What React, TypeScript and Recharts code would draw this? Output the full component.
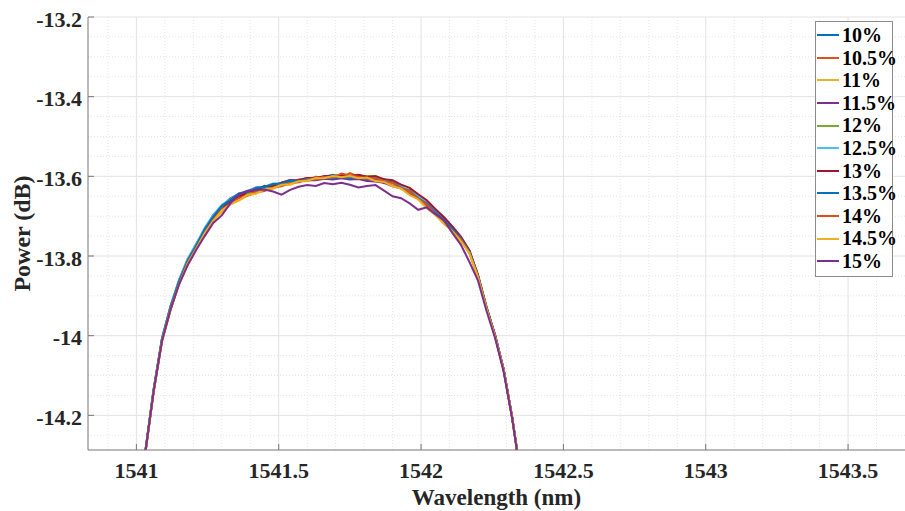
import React from 'react';
import { LineChart, Line, XAxis, YAxis, CartesianGrid, Legend } from 'recharts';

const wavelengths = [
  1541.0, 1541.03, 1541.06, 1541.09, 1541.12, 1541.15, 1541.18,
  1541.21, 1541.24, 1541.27, 1541.3, 1541.33, 1541.36, 1541.39, 1541.42, 1541.45, 1541.48,
  1541.51, 1541.54, 1541.57, 1541.6, 1541.63, 1541.66, 1541.69, 1541.72, 1541.75, 1541.78,
  1541.81, 1541.84, 1541.87, 1541.9, 1541.93, 1541.96, 1541.99, 1542.02, 1542.05, 1542.08,
  1542.11, 1542.14, 1542.17, 1542.2, 1542.23, 1542.26, 1542.29, 1542.32, 1542.35, 1542.38,
];

const p10 = [-14.5, -14.299, -14.141, -14.008, -13.929, -13.867, -13.812, -13.777, -13.734, -13.706, -13.675, -13.664, -13.644, -13.64, -13.637, -13.624, -13.627, -13.616, -13.609, -13.612, -13.604, -13.609, -13.601, -13.596, -13.602, -13.598, -13.605, -13.6, -13.609, -13.607, -13.617, -13.63, -13.634, -13.654, -13.667, -13.684, -13.712, -13.729, -13.759, -13.787, -13.85, -13.932, -13.998, -14.086, -14.204, -14.35, -14.5];
const p10_5 = [-14.501, -14.302, -14.143, -14.009, -13.933, -13.869, -13.813, -13.78, -13.74, -13.699, -13.686, -13.665, -13.648, -13.646, -13.635, -13.625, -13.627, -13.617, -13.617, -13.608, -13.609, -13.601, -13.604, -13.599, -13.603, -13.592, -13.601, -13.607, -13.605, -13.617, -13.615, -13.629, -13.642, -13.651, -13.673, -13.691, -13.716, -13.731, -13.76, -13.789, -13.852, -13.93, -14.002, -14.084, -14.206, -14.35, -14.501];
const p11 = [-14.502, -14.303, -14.144, -14.015, -13.936, -13.87, -13.823, -13.781, -13.747, -13.71, -13.69, -13.67, -13.661, -13.648, -13.643, -13.634, -13.631, -13.622, -13.621, -13.613, -13.612, -13.606, -13.607, -13.6, -13.603, -13.598, -13.603, -13.599, -13.599, -13.61, -13.621, -13.628, -13.643, -13.654, -13.676, -13.693, -13.718, -13.737, -13.763, -13.793, -13.854, -13.933, -14.002, -14.088, -14.207, -14.352, -14.502];
const p11_5 = [-14.499, -14.298, -14.139, -14.007, -13.928, -13.861, -13.813, -13.77, -13.735, -13.697, -13.676, -13.655, -13.645, -13.638, -13.628, -13.626, -13.619, -13.619, -13.613, -13.613, -13.609, -13.61, -13.606, -13.608, -13.605, -13.608, -13.607, -13.612, -13.613, -13.616, -13.625, -13.63, -13.643, -13.654, -13.674, -13.691, -13.714, -13.733, -13.759, -13.789, -13.851, -13.93, -14.001, -14.085, -14.206, -14.35, -14.5];
const p12 = [-14.498, -14.297, -14.136, -14.007, -13.925, -13.861, -13.808, -13.772, -13.732, -13.701, -13.675, -13.661, -13.646, -13.642, -13.631, -13.63, -13.621, -13.621, -13.613, -13.611, -13.604, -13.607, -13.601, -13.603, -13.597, -13.6, -13.597, -13.601, -13.599, -13.61, -13.614, -13.628, -13.635, -13.651, -13.666, -13.688, -13.706, -13.732, -13.754, -13.788, -13.849, -13.928, -13.999, -14.084, -14.203, -14.349, -14.499];
const p12_5 = [-14.499, -14.298, -14.137, -14.006, -13.925, -13.859, -13.807, -13.77, -13.729, -13.697, -13.672, -13.657, -13.643, -13.637, -13.628, -13.626, -13.618, -13.617, -13.61, -13.611, -13.604, -13.605, -13.601, -13.604, -13.598, -13.6, -13.598, -13.605, -13.605, -13.607, -13.617, -13.624, -13.639, -13.65, -13.666, -13.689, -13.708, -13.733, -13.755, -13.789, -13.85, -13.929, -14.0, -14.084, -14.205, -14.35, -14.5];
const p13 = [-14.501, -14.302, -14.143, -14.012, -13.934, -13.868, -13.82, -13.777, -13.742, -13.704, -13.683, -13.661, -13.652, -13.639, -13.634, -13.625, -13.624, -13.616, -13.61, -13.609, -13.604, -13.605, -13.599, -13.6, -13.596, -13.6, -13.596, -13.601, -13.6, -13.607, -13.61, -13.621, -13.629, -13.645, -13.66, -13.682, -13.702, -13.726, -13.751, -13.786, -13.847, -13.928, -13.999, -14.084, -14.205, -14.35, -14.5];
const p13_5 = [-14.5, -14.299, -14.138, -14.009, -13.927, -13.863, -13.811, -13.774, -13.733, -13.701, -13.674, -13.659, -13.643, -13.639, -13.629, -13.627, -13.619, -13.619, -13.611, -13.612, -13.606, -13.608, -13.601, -13.604, -13.601, -13.605, -13.601, -13.607, -13.605, -13.613, -13.615, -13.629, -13.637, -13.655, -13.668, -13.691, -13.708, -13.732, -13.755, -13.79, -13.849, -13.93, -13.999, -14.085, -14.205, -14.35, -14.5];
const p14 = [-14.501, -14.302, -14.141, -14.013, -13.932, -13.869, -13.816, -13.78, -13.741, -13.709, -13.684, -13.669, -13.655, -13.649, -13.64, -13.637, -13.628, -13.625, -13.617, -13.615, -13.608, -13.608, -13.601, -13.603, -13.593, -13.598, -13.601, -13.606, -13.604, -13.613, -13.616, -13.63, -13.638, -13.656, -13.671, -13.695, -13.713, -13.737, -13.758, -13.793, -13.851, -13.932, -14.001, -14.086, -14.205, -14.351, -14.501];
const p14_5 = [-14.502, -14.303, -14.142, -14.014, -13.933, -13.871, -13.819, -13.782, -13.743, -13.712, -13.686, -13.67, -13.66, -13.647, -13.643, -13.633, -13.63, -13.621, -13.62, -13.612, -13.611, -13.604, -13.605, -13.599, -13.602, -13.599, -13.605, -13.603, -13.612, -13.614, -13.625, -13.631, -13.647, -13.658, -13.68, -13.697, -13.719, -13.738, -13.763, -13.793, -13.853, -13.932, -14.002, -14.086, -14.206, -14.351, -14.501];
const p15 = [-14.5, -14.301, -14.142, -14.013, -13.934, -13.871, -13.823, -13.785, -13.75, -13.717, -13.698, -13.668, -13.646, -13.636, -13.634, -13.633, -13.638, -13.646, -13.634, -13.626, -13.622, -13.624, -13.617, -13.62, -13.616, -13.621, -13.628, -13.624, -13.622, -13.636, -13.65, -13.655, -13.668, -13.684, -13.678, -13.695, -13.71, -13.742, -13.772, -13.815, -13.862, -13.938, -14.006, -14.09, -14.208, -14.352, -14.502];

const seriesNames = ['10%', '10.5%', '11%', '11.5%', '12%', '12.5%', '13%', '13.5%', '14%', '14.5%', '15%'];
const seriesValues = [p10, p10_5, p11, p11_5, p12, p12_5, p13, p13_5, p14, p14_5, p15];
const seriesColors = ['#0072BD', '#D95319', '#EDB120', '#7E2F8E', '#77AC30', '#4DBEEE', '#A2142F', '#0072BD', '#D95319', '#EDB120', '#7E2F8E'];

const xTicks = [1541, 1541.5, 1542, 1542.5, 1543, 1543.5];
const yTicks = [-14.2, -14, -13.8, -13.6, -13.4, -13.2];
const xMinor = [1540.9, 1541.1, 1541.2, 1541.3, 1541.4, 1541.6, 1541.7, 1541.8, 1541.9, 1542.1, 1542.2, 1542.3, 1542.4, 1542.6, 1542.7, 1542.8, 1542.9, 1543.1, 1543.2, 1543.3, 1543.4, 1543.6];
const yMinor = [-14.25, -14.15, -14.1, -14.05, -13.95, -13.9, -13.85, -13.75, -13.7, -13.65, -13.55, -13.5, -13.45, -13.35, -13.3, -13.25];

const data = wavelengths.map((w, i) => {
  const row: Record<string, number> = { w };
  seriesNames.forEach((n, k) => {
    row[n] = seriesValues[k][i];
  });
  return row;
});

const FONT = '"Liberation Serif", "Times New Roman", serif';
const AXIS = '#777777';

const XTick = (props: any) => {
  const { x, y, payload } = props;
  return (
    <g>
      <line x1={x} y1={y} x2={x} y2={y - 6} stroke={AXIS} strokeWidth={1} />
      <text x={x} y={y + 20} textAnchor="middle" dominantBaseline="central" fontFamily={FONT} fontWeight="bold" fontSize={22} fill="#262626">
        {String(payload.value)}
      </text>
    </g>
  );
};

const YTick = (props: any) => {
  const { x, y, payload } = props;
  return (
    <g>
      <line x1={x} y1={y} x2={x + 6} y2={y} stroke={AXIS} strokeWidth={1} />
      <text x={x - 6} y={y + 2} textAnchor="end" dominantBaseline="central" fontFamily={FONT} fontWeight="bold" fontSize={22} fill="#262626">
        {String(payload.value)}
      </text>
    </g>
  );
};

const LegendBox = () => (
  <div
    style={{
      border: '1px solid #8c8c8c',
      background: '#fff',
      padding: '2px 2px 3px 1px',
      fontFamily: FONT,
      fontWeight: 'bold',
      fontSize: 20,
      color: '#000',
      width: 78,
      boxSizing: 'border-box',
    }}
  >
    {seriesNames.map((n, k) => (
      <div key={n} style={{ display: 'flex', alignItems: 'center', height: 22.6, lineHeight: '22.6px', whiteSpace: 'nowrap' }}>
        <span style={{ display: 'inline-block', width: 22, height: 2, background: seriesColors[k], marginRight: 3, flexShrink: 0 }} />
        <span>{n}</span>
      </div>
    ))}
  </div>
);

export default function App() {
  return (
    <div style={{ position: 'absolute', left: 0, top: 0, width: 905, height: 511, overflow: 'hidden', background: '#fff' }}>
      <LineChart width={905} height={511} data={data} margin={{ top: 17, right: 0, bottom: 0, left: 0 }}>
        <CartesianGrid verticalValues={xMinor} horizontalValues={yMinor} stroke="#e4e4e4" strokeDasharray="1 2" />
        <CartesianGrid verticalValues={xTicks} horizontalValues={yTicks} stroke="#e2e2e2" />
        <XAxis
          dataKey="w"
          type="number"
          domain={[1540.83, 1543.7]}
          ticks={xTicks}
          allowDataOverflow
          height={61}
          tickSize={0}
          tickMargin={0}
          tickLine={false}
          tick={<XTick />}
          stroke={AXIS}
          interval={0}
          label={{
            value: 'Wavelength (nm)',
            position: 'insideBottom',
            offset: 6,
            style: { fontFamily: FONT, fontWeight: 'bold', fontSize: 23, fill: '#262626' },
          }}
        />
        <YAxis
          type="number"
          domain={[-14.287, -13.2]}
          ticks={yTicks}
          allowDataOverflow
          width={88}
          tickSize={0}
          tickMargin={0}
          tickLine={false}
          tick={<YTick />}
          stroke={AXIS}
          interval={0}
          label={{
            content: (p: any) => {
              const vb = p.viewBox;
              const cx = vb.x + 22;
              const cy = vb.y + vb.height / 2;
              return (
                <text
                  x={cx}
                  y={cy}
                  transform={`rotate(-90, ${cx}, ${cy})`}
                  textAnchor="middle"
                  dominantBaseline="central"
                  fontFamily={FONT}
                  fontWeight="bold"
                  fontSize={24}
                  fill="#262626"
                >
                  Power (dB)
                </text>
              );
            },
          }}
        />
        {seriesNames.map((n, k) => (
          <Line
            key={n}
            dataKey={n}
            name={n}
            stroke={seriesColors[k]}
            strokeWidth={2}
            dot={false}
            activeDot={false}
            isAnimationActive={false}
            type="linear"
          />
        ))}
        <Legend
          layout="horizontal"
          verticalAlign="middle"
          align="center"
          content={<LegendBox />}
          wrapperStyle={{ position: 'absolute', left: 815, top: 21, width: 'auto', height: 'auto' }}
        />
      </LineChart>
    </div>
  );
}
